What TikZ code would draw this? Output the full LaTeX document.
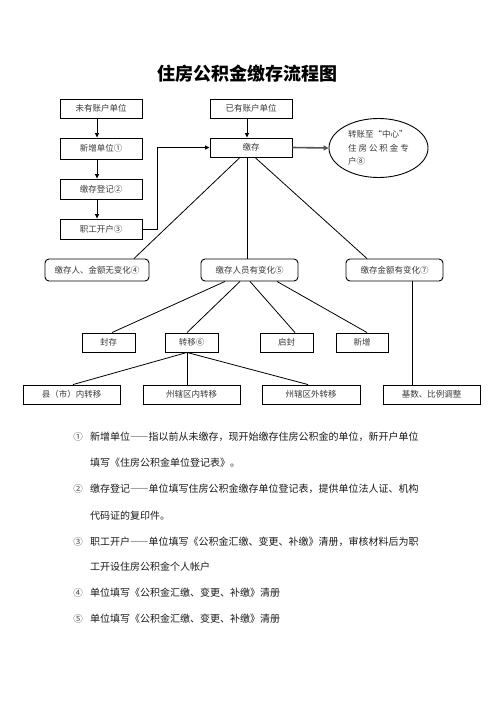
\documentclass[tikz,border=0pt]{standalone}
\usepackage{fontspec}
\setmainfont{Noto Sans CJK SC}
\newfontfamily\fwfont[RawFeature=+fwid]{Noto Sans CJK SC}
\usetikzlibrary{shapes.geometric,arrows.meta}
\definecolor{boxtext}{HTML}{3A3A3A}
\definecolor{notetext}{HTML}{1A1A1A}
\definecolor{arrowgray}{HTML}{555555}
\newcommand{\cjkdash}{{\fwfont —\kern-0.15em—}}
\begin{document}
\begin{tikzpicture}[x=1pt,y=-1pt,
  box/.style={draw=black,line width=0.9pt,minimum width=82pt,minimum height=20pt,inner sep=0pt,
    text=boxtext,font=\fontsize{8.5}{10}\selectfont},
  rbox/.style={box,rounded corners=4pt,minimum height=22pt},
  conn/.style={draw=black,line width=0.8pt},
  arr/.style={conn,-{Triangle[length=4.5pt,width=4pt]}},
  note/.style={anchor=west,inner sep=0pt,text=notetext,font=\fontsize{10}{12}\selectfont},
  num/.style={anchor=center,inner sep=0pt,text=notetext!80,font=\fontsize{9.5}{12}\selectfont}]
\useasboundingbox (0,0) rectangle (496,702);
\fill[white] (0,0) rectangle (496,702);
% title
\node[inner sep=0pt,font=\fontsize{18}{20}\selectfont\bfseries] (title) at (247.5,74) {住房公积金缴存流程图};
% left column
\node[box,minimum height=19pt] (u0) at (101,108.5) {未有账户单位};
\node[box,minimum height=21pt] (u1) at (101,148.5) {新增单位①};
\node[box] (u2) at (101,189) {缴存登记②};
\node[box] (u3) at (101,229) {职工开户③};
% centre column
\node[box,minimum height=19pt] (e0) at (251,108.5) {已有账户单位};
\node[box,minimum height=19pt] (pay) at (251,147.5) {缴存};
\node[ellipse,draw=black,line width=0.9pt,minimum width=99pt,minimum height=59pt,inner sep=0pt,
  text=boxtext,font=\fontsize{8.5}{13.5}\selectfont,align=left] (ell) at (378.5,148)
  {转账至{\fwfont “}中心{\fwfont ”}\\住 房 公 积 金 专\\户⑧};
% second row
\node[rbox,minimum width=104pt] (c4) at (97,270) {缴存人、金额无变化④};
\node[rbox,minimum width=97pt] (c5) at (249.5,270) {缴存人员有变化⑤};
\node[rbox,minimum width=97pt] (c7) at (394.5,270) {缴存金额有变化⑦};
% third row
\node[box,minimum width=53pt,minimum height=19pt] (s1) at (108.5,342.5) {封存};
\node[box,minimum width=53pt,minimum height=19pt] (s2) at (191.5,342.5) {转移⑥};
\node[box,minimum width=53pt,minimum height=19pt] (s3) at (286.5,342.5) {启封};
\node[box,minimum width=52pt,minimum height=19pt] (s4) at (362,342.5) {新增};
% fourth row
\node[box,minimum width=97pt,minimum height=19pt] (t1) at (71.5,394.5) {县（市）内转移};
\node[box,minimum width=97pt,minimum height=19pt] (t2) at (191.5,394.5) {州辖区内转移};
\node[box,minimum width=98pt,minimum height=19pt] (t3) at (311,394.5) {州辖区外转移};
\node[box,minimum width=97pt,minimum height=19pt] (t4) at (431.5,394.5) {基数、比例调整};
% arrows left column
\draw[arr] ([xshift=-4pt]u0.south) -- ([xshift=-4pt]u1.north);
\draw[arr] ([xshift=-4pt]u1.south) -- ([xshift=-4pt]u2.north);
\draw[arr] ([xshift=-4pt]u2.south) -- ([xshift=-4pt]u3.north);
\draw[arr] (u3.east) -- ++(15,0) |- (pay.west);
\draw[arr] ([xshift=-4pt]e0.south) -- ([xshift=-4pt]pay.north);
\draw[draw=arrowgray,line width=1.6pt,-{Triangle[length=5pt,width=5pt]}] (pay.east) -- (ell.west);
% pay to second row
\draw[conn] ([xshift=-11pt]pay.south) -- ([xshift=37pt]c4.north);
\draw[conn] ([xshift=-4pt]pay.south) -- ([xshift=-2.5pt]c5.north);
\draw[conn] ([xshift=4pt]pay.south) -- ([xshift=-27.5pt]c7.north);
% c5 to third row
\draw[conn] ([xshift=-24.5pt]c5.south) -- ([xshift=3.5pt]s1.north);
\draw[conn] ([xshift=-9.5pt]c5.south) -- ([xshift=-4.5pt]s2.north);
\draw[conn] ([xshift=0.5pt]c5.south) -- ([xshift=8.5pt]s3.north);
\draw[conn] ([xshift=27.5pt]c5.south) -- ([xshift=5pt]s4.north);
% s2 to fourth row
\draw[conn] ([xshift=-4.5pt]s2.south) -- ([xshift=1.5pt]t1.north);
\draw[conn] ([xshift=-4.5pt]s2.south) -- ([xshift=-4.5pt]t2.north);
\draw[conn] ([xshift=-4.5pt]s2.south) -- ([xshift=-3pt]t3.north);
\draw[conn] ([xshift=17.5pt]c7.south) -- ([xshift=-19.5pt]t4.north);
% notes
\node[num] (n1) at (78,437) {①};
\node[note] (l1) at (90,437) {新增单位\cjkdash 指以前从未缴存，现开始缴存住房公积金的单位，新开户单位};
\node[note] (l1b) at (90,463) {填写《住房公积金单位登记表》。};
\node[num] (n2) at (78,489) {②};
\node[note] (l2) at (90,489) {缴存登记\cjkdash 单位填写住房公积金缴存单位登记表，提供单位法人证、机构};
\node[note] (l2b) at (90,516) {代码证的复印件。};
\node[num] (n3) at (78,542) {③};
\node[note] (l3) at (90,542) {职工开户\cjkdash 单位填写《公积金汇缴、变更、补缴》清册，审核材料后为职};
\node[note] (l3b) at (90,567) {工开设住房公积金个人帐户};
\node[num] (n4) at (78,593) {④};
\node[note] (l4) at (90,593) {单位填写《公积金汇缴、变更、补缴》清册};
\node[num] (n5) at (78,619) {⑤};
\node[note] (l5) at (90,619) {单位填写《公积金汇缴、变更、补缴》清册};
\end{tikzpicture}
\end{document}
